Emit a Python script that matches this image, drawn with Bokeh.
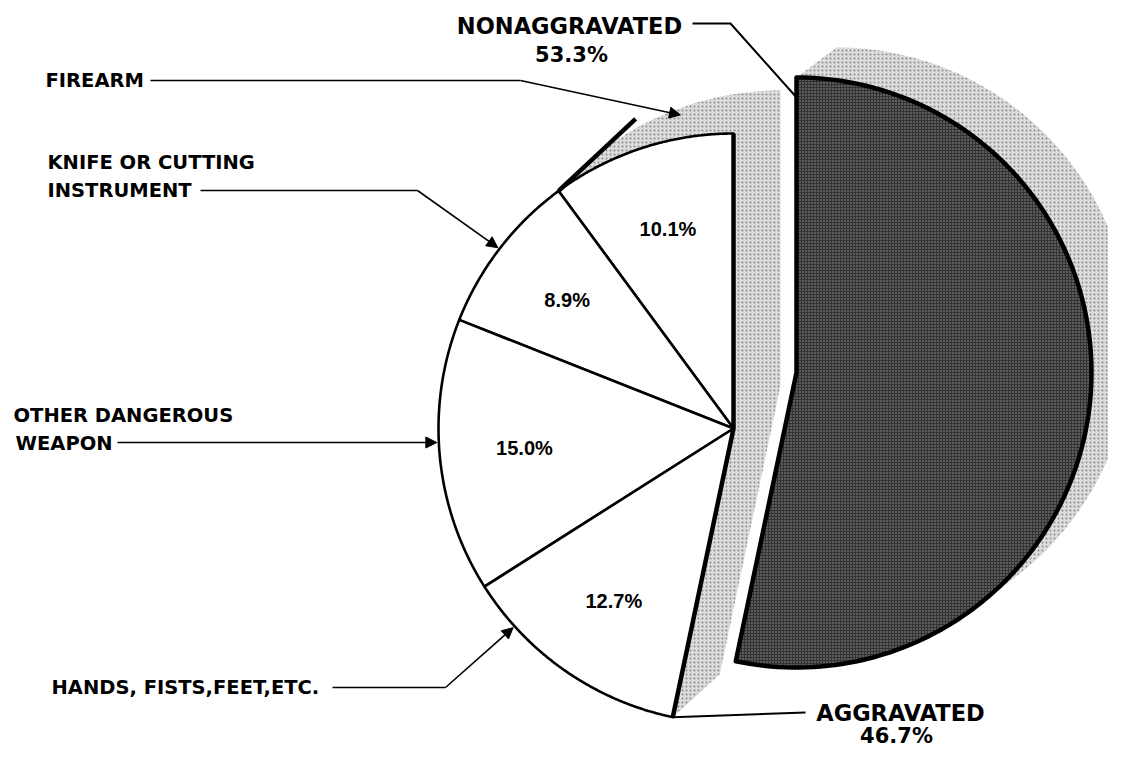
import numpy as np
from bokeh.plotting import figure
from bokeh.models import Range1d, Arrow, NormalHead
from bokeh.core.properties import value
from bokeh.embed import file_html
from bokeh.resources import INLINE

# ---------------- data ----------------
group_names = ["NONAGGRAVATED", "AGGRAVATED"]
group_shares = [53.3, 46.7]
weapon_names = ["FIREARM", "KNIFE OR CUTTING\nINSTRUMENT",
                "OTHER DANGEROUS\nWEAPON", "HANDS, FISTS,FEET,ETC."]
weapon_shares = [10.1, 8.9, 15.0, 12.7]

# ---------------- canvas (reference pixel coords, y up) ----------------
W, H = 1108, 751
PAGE_H = 767


def sy(y):
    return PAGE_H - y


p = figure(width=W, height=H, x_range=Range1d(0, W),
           y_range=Range1d(PAGE_H - H, PAGE_H),
           output_backend="svg", toolbar_location=None, min_border=0,
           x_axis_type=None, y_axis_type=None)
p.outline_line_color = None
p.background_fill_color = "white"
p.border_fill_color = "white"

R = 295
C_AGG = (733.0, sy(428))
C_NON = (796.0, sy(372))
SH_AGG = (47.0, 43.0)
SH_NON = (40.0, 30.0)

total = sum(group_shares)
agg_span = group_shares[1] / total * 360.0
AGG_A0 = 90.0
AGG_A1 = AGG_A0 + agg_span
NON_A0, NON_A1 = AGG_A1, 450.0


def polar(c, r, ang):
    a = np.radians(ang)
    return c[0] + r * np.cos(a), c[1] + r * np.sin(a)


def sector(c, r, a0, a1, n=140):
    a = np.radians(np.linspace(a0, a1, n))
    xs = np.concatenate([[c[0]], c[0] + r * np.cos(a)])
    ys = np.concatenate([[c[1]], c[1] + r * np.sin(a)])
    return xs, ys


def hull(xs, ys):
    pts = sorted(set(zip(np.round(xs, 3), np.round(ys, 3))))

    def cross(o, a, b):
        return (a[0] - o[0]) * (b[1] - o[1]) - (a[1] - o[1]) * (b[0] - o[0])
    lower, upper = [], []
    for pt in pts:
        while len(lower) >= 2 and cross(lower[-2], lower[-1], pt) <= 0:
            lower.pop()
        lower.append(pt)
    for pt in reversed(pts):
        while len(upper) >= 2 and cross(upper[-2], upper[-1], pt) <= 0:
            upper.pop()
        upper.append(pt)
    h = lower[:-1] + upper[:-1]
    return [q[0] for q in h], [q[1] for q in h]


def extrude(c, r, a0, a1, off):
    xs, ys = sector(c, r, a0, a1)
    return hull(np.concatenate([xs, xs + off[0]]), np.concatenate([ys, ys + off[1]]))


# ---------------- shadows (extrusions) ----------------
sh_xs, sh_ys = [], []
hx, hy = extrude(C_AGG, R, AGG_A0, AGG_A1, SH_AGG)
sh_xs.append(hx); sh_ys.append(hy)
mid = (NON_A0 + NON_A1) / 2
for a0, a1 in [(NON_A0, mid), (mid, NON_A1)]:
    hx, hy = extrude(C_NON, R, a0, a1, SH_NON)
    sh_xs.append(hx); sh_ys.append(hy)
p.patches(xs=sh_xs, ys=sh_ys, fill_color="#dcdcdc", line_color=None,
          hatch_pattern=".", hatch_color="#8a8a8a", hatch_scale=4, hatch_weight=0.8)

# ---------------- aggravated slices ----------------
bounds = [AGG_A0]
for v in weapon_shares:
    bounds.append(bounds[-1] + v / total * 360.0)
sl_xs, sl_ys = [], []
for a0, a1 in zip(bounds[:-1], bounds[1:]):
    xs, ys = sector(C_AGG, R, a0, a1)
    sl_xs.append(list(xs)); sl_ys.append(list(ys))
p.patches(xs=sl_xs, ys=sl_ys, fill_color="white", line_color="black",
          line_width=2.6, line_join="round")

# outer straight edges of the aggravated piece (heavier)
tx, ty = polar(C_AGG, R, AGG_A0)
bx, by = polar(C_AGG, R, AGG_A1)
p.line([tx, C_AGG[0], bx], [ty, C_AGG[1], by], line_color="black", line_width=4.5,
       line_join="round")

# heavy extrusion edge at the firearm boundary
fx, fy = polar(C_AGG, R, bounds[1])
p.line([fx, fx + 77], [fy, fy + 72], line_color="black", line_width=4.5)

# percent labels inside slices
mids = [(a0 + a1) / 2 for a0, a1 in zip(bounds[:-1], bounds[1:])]
lx = [polar(C_AGG, 210, m)[0] for m in mids]
ly = [polar(C_AGG, 210, m)[1] for m in mids]
p.text(x=lx, y=ly, text=[f"{v:.1f}%" for v in weapon_shares],
       text_font=value("Liberation Sans"), text_font_style="bold",
       text_font_size="20px", text_align="center", text_baseline="middle",
       text_color="black")

# ---------------- nonaggravated piece ----------------
nx, ny = sector(C_NON, R, NON_A0, NON_A1)
p.patch(x=nx, y=ny, fill_color="#333333", line_color="black", line_width=4.5,
        line_join="round", hatch_pattern=".", hatch_color="#9a9a9a",
        hatch_scale=3, hatch_weight=0.7)

# ---------------- side labels + leaders ----------------
anchors = [(45, 80), (47, 162), (13, 415), (51, 687)]
tx_, ty_, tt_ = [], [], []
for name, (x0, y0) in zip(weapon_names, anchors):
    for i, line in enumerate(name.split("\n")):
        tx_.append(x0 + (2 if (i and name.startswith("OTHER")) else 0))
        ty_.append(sy(y0 + i * 27.5))
        tt_.append(line)
p.text(x=tx_, y=ty_, text=tt_, text_font=value("DejaVu Sans"), text_font_style="bold",
       text_font_size="19.5px", text_align="left", text_baseline="middle",
       text_color="black")

tip_polar = [(99.6, 318), (142.5, 297), (182.7, 297), (222.1, 297)]
leader_paths = [
    [(150, 80), (520, 80)],
    [(200, 190), (417, 190)],
    [(117, 442)],
    [(332, 687), (445, 687)],
]
for path, (ang, rr) in zip(leader_paths, tip_polar):
    tipx, tipy = polar(C_AGG, rr, ang)
    xs = [q[0] for q in path]
    ys = [sy(q[1]) for q in path]
    if len(path) > 1:
        p.line(xs, ys, line_color="black", line_width=1.6)
    p.add_layout(Arrow(end=NormalHead(size=11, fill_color="black", line_color="black"),
                       x_start=xs[-1], y_start=ys[-1], x_end=tipx, y_end=tipy,
                       line_color="black", line_width=1.6))

# group labels
p.text(x=[569, 900], y=[sy(25), sy(712)], text=group_names,
       text_font=value("DejaVu Sans"), text_font_style="bold", text_font_size="22.5px",
       text_align="center", text_baseline="middle", text_color="black")
p.text(x=[571, 896], y=[sy(54), sy(735)], text=[f"{v:.1f}%" for v in group_shares],
       text_font=value("DejaVu Sans"), text_font_style="bold", text_font_size="21px",
       text_align="center", text_baseline="middle", text_color="black")

# group leaders
p.line([692, 730, 797], [sy(23), sy(23), sy(98)], line_color="black", line_width=2)
p.line([bx, 805], [by, sy(712)], line_color="black", line_width=2)

open("out.html", "w").write(file_html(p, INLINE))
